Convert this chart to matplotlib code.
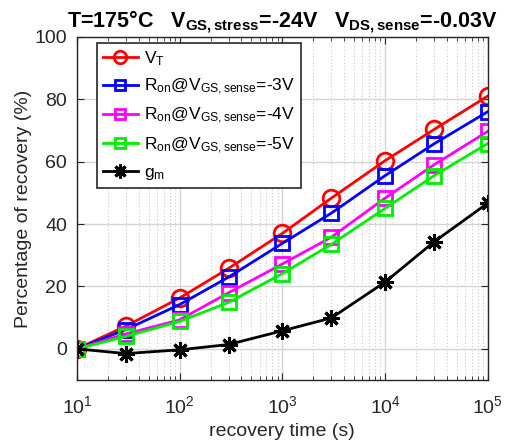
import matplotlib
matplotlib.use("Agg")
import matplotlib.pyplot as plt
import numpy as np

plt.rcParams['font.family'] = ['Liberation Sans', 'DejaVu Sans']
plt.rcParams['mathtext.fontset'] = 'custom'
plt.rcParams['mathtext.rm'] = 'Liberation Sans'
plt.rcParams['mathtext.it'] = 'Liberation Sans'
plt.rcParams['mathtext.bf'] = 'Liberation Sans:bold'
plt.rcParams['mathtext.default'] = 'regular'

# recovery times (s)
t = [10, 30, 100, 300, 1000, 3000, 10000, 30000, 100000]

# percentage of recovery
vt = [0, 7.3, 16.3, 25.8, 37.0, 48.3, 60.3, 70.3, 81.0]
ron3 = [0, 6.2, 14.2, 23.0, 33.8, 43.5, 55.5, 65.7, 76.0]
ron4 = [0, 4.8, 9.3, 18.0, 27.2, 35.8, 48.3, 59.0, 69.7]
ron5 = [0, 4.0, 8.8, 14.9, 24.1, 33.5, 45.0, 55.5, 65.8]
gm = [0, -1.5, -0.3, 1.4, 5.8, 9.9, 21.4, 34.3, 46.7]

fig = plt.figure(figsize=(5.06, 4.43), dpi=100)
ax = fig.add_axes([0.152, 0.142, 0.812, 0.775])

lw = 2
ax.plot(t, vt, '-o', color='red', lw=lw, ms=12, mfc='none', mew=2,
        label=r'V$_T$')
ax.plot(t, ron3, '-s', color='blue', lw=lw, ms=9.5, mfc='none', mew=2,
        label=r'R$_{on}$@V$_{GS,sense}$=-3V')
ax.plot(t, ron4, '-s', color='magenta', lw=lw, ms=9.5, mfc='none', mew=2,
        label=r'R$_{on}$@V$_{GS,sense}$=-4V')
ax.plot(t, ron5, '-s', color='#00ee00', lw=lw, ms=9.5, mfc='none', mew=2,
        label=r'R$_{on}$@V$_{GS,sense}$=-5V')
ax.plot(t, gm, '-', color='black', lw=lw, marker=(8, 2, 0), ms=12, mew=2.2,
        mec='black', label=r'g$_m$')

ax.set_xscale('log')
ax.set_xlim(10, 1e5)
ax.set_ylim(-10, 100)
ax.set_yticks([0, 20, 40, 60, 80, 100])

ax.grid(True, which='major', color='#d4d4d4', lw=1, ls='-')
ax.grid(True, which='minor', color='#c8c8c8', lw=0.8, ls=(0, (1, 2)))
ax.set_axisbelow(True)

ax.tick_params(which='both', direction='in', top=True, right=True,
               labelsize=14, colors='#262626')
ax.tick_params(axis='x', pad=11)
ax.tick_params(axis='y', pad=7)
ax.tick_params(which='major', length=5)
ax.tick_params(which='minor', length=3)
for s in ax.spines.values():
    s.set_color('#262626')
    s.set_linewidth(1)

ax.set_xlabel('recovery time (s)', fontsize=14, color='#262626', labelpad=4)
ax.set_ylabel('Percentage of recovery (%)', fontsize=14, color='#262626',
              labelpad=2)
ax.set_title(r'T=175°C   V$_{\mathbf{GS,stress}}$=-24V   V$_{\mathbf{DS,sense}}$=-0.03V',
             fontsize=15.5, fontweight='bold', pad=7)

leg = ax.legend(loc='upper left', bbox_to_anchor=(0.0487, 0.9825), fontsize=12.5,
                fancybox=False, edgecolor='#262626', framealpha=1,
                handlelength=2.0, borderaxespad=0, labelspacing=0.52,
                handletextpad=0.35, borderpad=0.35)
leg.get_frame().set_linewidth(1.2)
for h, m in zip(leg.legend_handles, [9, 7, 7, 7, 10]):
    h.set_markersize(m)

plt.savefig('out.png', dpi=100)
